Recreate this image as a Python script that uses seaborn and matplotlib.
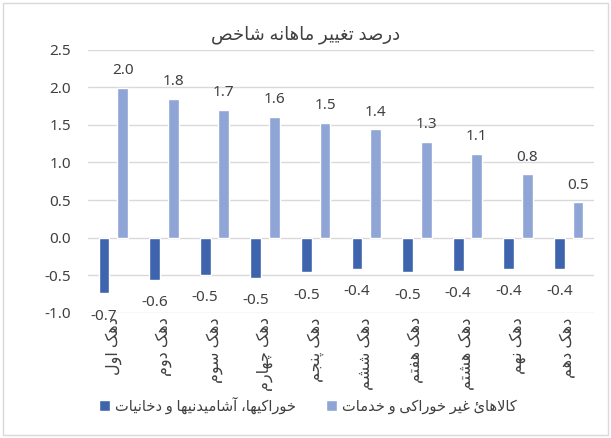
import pandas as pd
import seaborn as sns
from matplotlib import pyplot as plt
from matplotlib.patches import Rectangle

# data
deciles = ['دهک اول', 'دهک دوم', 'دهک سوم', 'دهک چهارم', 'دهک پنجم',
           'دهک ششم', 'دهک هفتم', 'دهک هشتم', 'دهک نهم', 'دهک دهم']
food_name = 'خوراکیها، آشامیدنیها و دخانیات'
nonfood_name = 'کالاهائ غیر خوراکی و خدمات'
food = [-0.74, -0.56, -0.49, -0.53, -0.46, -0.41, -0.46, -0.44, -0.41, -0.41]
nonfood = [1.99, 1.84, 1.70, 1.61, 1.53, 1.44, 1.27, 1.11, 0.84, 0.47]
title = 'درصد تغییر ماهانه شاخص'

# matplotlib does no arabic shaping, so build presentation forms by hand
# (isolated, final, initial, medial)
FORMS = {
    'ا': ('\uFE8D', '\uFE8E', None, None),
    'آ': ('\uFE81', '\uFE82', None, None),
    'ت': ('\uFE95', '\uFE96', '\uFE97', '\uFE98'),
    'پ': ('\uFB56', '\uFB57', '\uFB58', '\uFB59'),
    'ج': ('\uFE9D', '\uFE9E', '\uFE9F', '\uFEA0'),
    'چ': ('\uFB7A', '\uFB7B', '\uFB7C', '\uFB7D'),
    'خ': ('\uFEA5', '\uFEA6', '\uFEA7', '\uFEA8'),
    'د': ('\uFEA9', '\uFEAA', None, None),
    'ر': ('\uFEAD', '\uFEAE', None, None),
    'س': ('\uFEB1', '\uFEB2', '\uFEB3', '\uFEB4'),
    'ش': ('\uFEB5', '\uFEB6', '\uFEB7', '\uFEB8'),
    'ص': ('\uFEB9', '\uFEBA', '\uFEBB', '\uFEBC'),
    'غ': ('\uFECD', '\uFECE', '\uFECF', '\uFED0'),
    'ف': ('\uFED1', '\uFED2', '\uFED3', '\uFED4'),
    'ل': ('\uFEDD', '\uFEDE', '\uFEDF', '\uFEE0'),
    'م': ('\uFEE1', '\uFEE2', '\uFEE3', '\uFEE4'),
    'ن': ('\uFEE5', '\uFEE6', '\uFEE7', '\uFEE8'),
    'ه': ('\uFEE9', '\uFEEA', '\uFEEB', '\uFEEC'),
    'و': ('\uFEED', '\uFEEE', None, None),
    'ک': ('\uFB8E', '\uFB8F', '\uFB90', '\uFB91'),
    'ی': ('\uFBFC', '\uFBFD', '\uFBFE', '\uFBFF'),
    'ئ': ('\uFE89', '\uFE8A', '\uFE8B', '\uFE8C'),
}
LAM_ALEF = {'ا': ('\uFEFB', '\uFEFC'), 'آ': ('\uFEF5', '\uFEF6')}


def shape(s):
    out = []
    i = 0
    while i < len(s):
        c = s[i]
        if c not in FORMS:
            out.append(c)
            i += 1
            continue
        p = s[i - 1] if i > 0 else ''
        n = s[i + 1] if i + 1 < len(s) else ''
        prev_joins = p in FORMS and FORMS[p][2] is not None
        if c == 'ل' and n in LAM_ALEF:
            out.append(LAM_ALEF[n][1 if prev_joins else 0])
            i += 2
            continue
        next_joins = n in FORMS and FORMS[c][2] is not None
        f = FORMS[c]
        if prev_joins and next_joins:
            out.append(f[3])
        elif prev_joins:
            out.append(f[1])
        elif next_joins:
            out.append(f[2])
        else:
            out.append(f[0])
        i += 1
    return ''.join(out)[::-1]


df = pd.DataFrame({
    'decile': deciles * 2,
    'series': [food_name] * len(deciles) + [nonfood_name] * len(deciles),
    'value': food + nonfood,
})

sns.set_style('white')
plt.rcParams['font.family'] = ['Noto Sans', 'DejaVu Sans']

fig = plt.figure(figsize=(6.11, 4.38), dpi=100)
ax = fig.add_axes([88 / 611, 1 - 313 / 438, (594 - 88) / 611, (313 - 49.5) / 438])

sns.barplot(data=df, x='decile', y='value', hue='series', order=deciles,
            hue_order=[food_name, nonfood_name],
            palette=['#3D64AC', '#8FA5D5'], width=0.74, gap=0.42,
            saturation=1, ax=ax, zorder=3)

ax.set_ylim(-1.0, 2.5)
ax.set_yticks([-1.0, -0.5, 0.0, 0.5, 1.0, 1.5, 2.0, 2.5])
ax.set_yticklabels([f'{v:.1f}' for v in ax.get_yticks()])
ax.yaxis.grid(True, color='#D9D9D9', linewidth=1)
ax.set_axisbelow(True)
for sp in ax.spines.values():
    sp.set_visible(False)
ax.tick_params(axis='y', length=0, pad=12, labelsize=11, labelcolor='#404040')
ax.tick_params(axis='x', length=0, pad=3)
ax.set_xticks(range(len(deciles)))
ax.set_xticklabels([shape(d) for d in deciles], rotation=90, va='top',
                   fontsize=11.5, color='#404040')
ax.set_xlabel('')
ax.set_ylabel('')

ax.bar_label(ax.containers[0], fmt='%.1f', padding=11, fontsize=11, color='#404040')
ax.bar_label(ax.containers[1], fmt='%.1f', padding=7, fontsize=11, color='#404040')

fig.text(306 / 611, 1 - 35 / 438, shape(title), ha='center', va='center',
         fontsize=13, color='#404040')

handles, _ = ax.get_legend_handles_labels()
ax.get_legend().remove()
fig.legend(handles, [shape(food_name), shape(nonfood_name)], loc='center',
           bbox_to_anchor=(308 / 611, 1 - 406 / 438), ncol=2, frameon=False,
           fontsize=10.5, handlelength=0.75, handleheight=0.75, handletextpad=0.35,
           columnspacing=2.1, labelcolor='#404040')

fig.patches.append(Rectangle((3 / 611, 3 / 438), 605 / 611, 432 / 438,
                             transform=fig.transFigure, fill=False,
                             edgecolor='#D9D9D9', linewidth=1))

fig.savefig('out.png', dpi=100)
